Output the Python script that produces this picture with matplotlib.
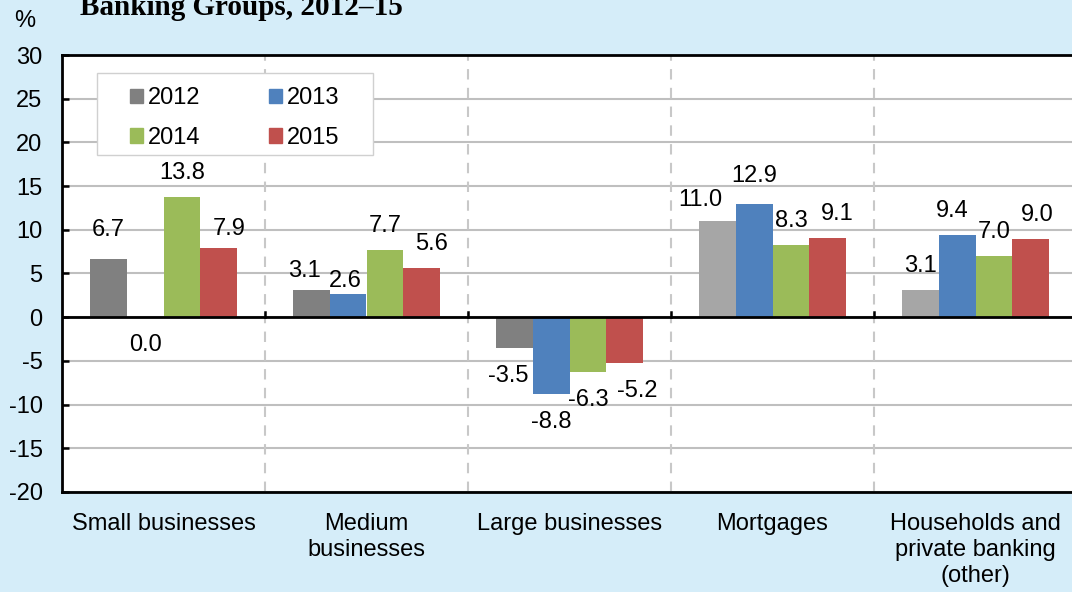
import numpy as np
import matplotlib
matplotlib.use("Agg")
import matplotlib.pyplot as plt
from matplotlib.patches import Patch, Rectangle

# data
categories = ["Small businesses", "Medium\nbusinesses", "Large businesses",
              "Mortgages", "Households and\nprivate banking\n(other)"]
years = ["2012", "2013", "2014", "2015"]
v2012 = [6.7, 3.1, -3.5, 11.0, 3.1]
v2013 = [0.0, 2.6, -8.8, 12.9, 9.4]
v2014 = [13.8, 7.7, -6.3, 8.3, 7.0]
v2015 = [7.9, 5.6, -5.2, 9.1, 9.0]
series = [v2012, v2013, v2014, v2015]

colors = ["#808080", "#4F81BD", "#9BBB59", "#C0504D"]
gray_light = "#A6A6A6"   # 2012 bars in the last two groups
bg = "#D5EDF9"

# label nudges in pixels (series, group) -> (dx, dy) relative to default spot
nudge = {
    (0, 0): (0, 5), (3, 0): (10, -5), (1, 0): (0, -52),
    (0, 1): (-7, -5), (1, 1): (-3, -11), (3, 1): (10, 0),
    (0, 2): (-6, 0), (3, 2): (12, 0),
    (0, 3): (-17, -3), (1, 3): (0, 4), (3, 3): (9, 0),
    (1, 4): (-5, 0), (3, 4): (6, 0),
}

plt.rcParams["font.family"] = ["Liberation Sans", "DejaVu Sans"]
plt.rcParams["axes.unicode_minus"] = False
fs = 17

fig = plt.figure(figsize=(10.72, 5.92), dpi=100, facecolor=bg)
ax = fig.add_axes([62 / 1072, 1 - 492 / 592, 1015 / 1072, 437 / 592])
ax.set_facecolor("white")

x = np.arange(len(categories))
w = 0.182
for i, vals in enumerate(series):
    pos = x + (i - 1.5) * w
    cols = [colors[i]] * len(vals)
    if i == 0:
        cols[3] = gray_light
        cols[4] = gray_light
    ax.bar(pos, vals, width=w, color=cols, zorder=3)
    for j, v in enumerate(vals):
        dx, dy = nudge.get((i, j), (0, 0))
        base = 24 if v >= 0 else -28
        ax.annotate(f"{v:.1f}", (pos[j], v), xytext=(dx, base + dy),
                    textcoords="offset pixels", ha="center", va="center",
                    fontsize=fs, color="black", zorder=5)

ax.set_xlim(-0.5, len(categories) - 0.5)
ax.set_ylim(-20, 30)
ax.set_yticks(np.arange(-20, 31, 5))
ax.yaxis.grid(True, color="#BFBFBF", linewidth=1.5, zorder=0)
ax.set_axisbelow(True)

# dashed group separators
for b in np.arange(0.5, len(categories) - 0.5, 1):
    ax.axvline(b, color="#C8C8C8", linewidth=1.5, linestyle=(0, (5, 4)), zorder=1)
    ax.plot([b, b], [0, 0.6], color="black", linewidth=1.8, zorder=4)
ax.axhline(0, color="black", linewidth=2, zorder=4)

ax.set_xticks(x)
ax.set_xticklabels(categories, fontsize=fs, linespacing=1.25)
ax.tick_params(axis="x", length=0, pad=15)
ax.tick_params(axis="y", direction="in", length=5, width=1.8, labelsize=fs, pad=14)
for s in ax.spines.values():
    s.set_color("black")
    s.set_linewidth(2)

# legend with a white box behind it
box = Rectangle((97 / 1072, 1 - 155 / 592), 276 / 1072, 82 / 592,
                transform=fig.transFigure, facecolor="white",
                edgecolor="#D0D0D0", linewidth=1)
ax.add_patch(box)
box.set_zorder(6)
handles = [Patch(color=colors[k]) for k in [0, 2, 1, 3]]
labels = [years[k] for k in [0, 2, 1, 3]]
leg = ax.legend(handles, labels, ncol=2, frameon=False, fontsize=fs,
                loc="upper left", bbox_to_anchor=(0.058, 0.9475),
                handlelength=0.55, handleheight=0.55, handletextpad=0.2,
                columnspacing=2.9, labelspacing=0.74, borderaxespad=0)
leg.set_zorder(7)

fig.text(25 / 1072, 1 - 21 / 592, "%", fontsize=fs, ha="center", va="center")
fig.text(80 / 1072, 1 - 15 / 592, "Banking Groups, 2012\u201315", fontsize=21,
         fontweight="bold", family="Liberation Serif", ha="left", va="baseline")

fig.savefig("out.png", dpi=100, facecolor=bg)
